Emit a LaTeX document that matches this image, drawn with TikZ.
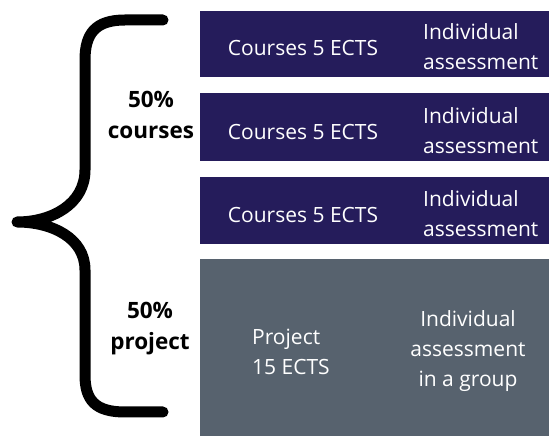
\documentclass[tikz,border=0pt]{standalone}
\usepackage{fontspec}
\setmainfont{Open Sans}
\definecolor{navy}{HTML}{251C5B}
\definecolor{slate}{HTML}{57626E}
\begin{document}
\begin{tikzpicture}[x=1pt,y=1pt,
  box/.style={rectangle,inner sep=0pt,anchor=south west,minimum width=349pt},
  wtxt/.style={text=white,font=\fontsize{21}{30}\selectfont,inner sep=0pt},
  lbl/.style={font=\fontsize{22.5}{31}\selectfont\bfseries,align=center,inner sep=0pt}]
\useasboundingbox (0,0) rectangle (549,436);
\node[box,fill=navy,minimum height=66pt] (b1) at (200,359) {};
\node[box,fill=navy,minimum height=68pt] (b2) at (200,275) {};
\node[box,fill=navy,minimum height=67pt] (b3) at (200,192) {};
\node[box,fill=slate,minimum height=177pt] (b4) at (200,0) {};
\node[wtxt] (c1) at (303,388) {Courses 5 ECTS};
\node[wtxt] (c2) at (303,304) {Courses 5 ECTS};
\node[wtxt] (c3) at (303,221) {Courses 5 ECTS};
\node[wtxt,align=left,anchor=west] (a1) at (423,389) {Individual\\assessment};
\node[wtxt,align=left,anchor=west] (a2) at (423,305) {Individual\\assessment};
\node[wtxt,align=left,anchor=west] (a3) at (423,222) {Individual\\assessment};
\node[wtxt,align=left,anchor=west] (p) at (252,84) {Project\\15 ECTS};
\node[wtxt,align=center] (pa) at (468,85) {Individual\\assessment\\in a group};
\node[lbl] (l1) at (151,321) {50\%\\courses};
\node[lbl] (l2) at (150,107) {50\%\\project};
\draw[line width=11pt,line cap=round,line join=round]
  (163,416) -- (125,416) .. controls (95,416) and (85,402) .. (85,376)
  -- (85,266) .. controls (85,232) and (52,214) .. (17,214)
  .. controls (52,214) and (85,198) .. (85,166)
  -- (85,61) .. controls (85,36) and (95,24) .. (125,24) -- (163,24);
\end{tikzpicture}
\end{document}
